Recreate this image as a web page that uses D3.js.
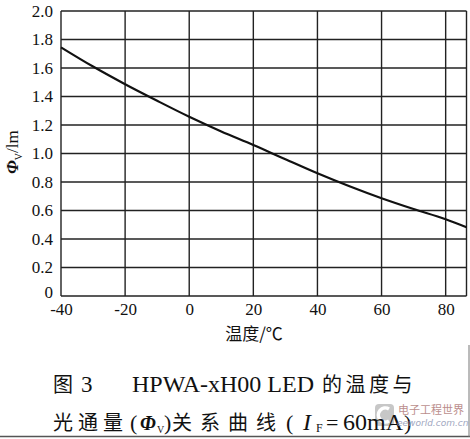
<!DOCTYPE html>
<html><head><meta charset="utf-8">
<script src="https://cdn.jsdelivr.net/npm/d3@7"></script>
<style>body{margin:0;background:#fff}svg{display:block}</style>
</head><body>
<svg id="c" width="470" height="439"></svg>
<script>
const temps = [-40, -30, -20, -10, 0, 10, 20, 30, 40, 50, 60, 70, 80, 86.5];
const flux  = [1.745, 1.61, 1.486, 1.37, 1.258, 1.155, 1.06, 0.96, 0.861, 0.77, 0.686, 0.61, 0.538, 0.482];
const xTicks = [-40, -20, 0, 20, 40, 60, 80];
const yTicks = [0, 0.2, 0.4, 0.6, 0.8, 1.0, 1.2, 1.4, 1.6, 1.8, 2.0];
const xTitle = "温度/℃";

const svg = d3.select("#c");
const x = d3.scaleLinear().domain([-40, 86.5]).range([61, 466.5]);
const y = d3.scaleLinear().domain([0, 2]).range([296, 11]);
const ink = "#222";
const serif = "'Liberation Serif','DejaVu Serif',serif";
const cjk = "'Noto Sans CJK SC',sans-serif";

// grid
const g = svg.append("g");
g.selectAll(".hy").data(yTicks).join("line")
  .attr("x1", x(-40)).attr("x2", x(86.5))
  .attr("y1", d => y(d)).attr("y2", d => y(d))
  .attr("stroke", ink).attr("stroke-width", 1.4);
g.selectAll(".vx").data(xTicks.concat([86.5])).join("line")
  .attr("x1", d => x(d)).attr("x2", d => x(d))
  .attr("y1", y(0)).attr("y2", y(2))
  .attr("stroke", ink).attr("stroke-width", 1.4);

// axes labels via d3 axes
const ya = svg.append("g").attr("transform", `translate(${x(-40)},0)`)
  .call(d3.axisLeft(y).tickValues(yTicks).tickSize(0).tickPadding(8)
    .tickFormat(d => d === 0 ? "0" : d3.format(".1f")(d)));
ya.attr("font-family", serif).attr("font-size", 17);
ya.select(".domain").remove();
ya.selectAll("text").style("font-family", serif).style("font-size", "17px").attr("fill", "#111");
ya.selectAll(".tick").filter(d => d === 0).select("text").attr("dy", "0.1em");

const xa = svg.append("g").attr("transform", `translate(0,${y(0)})`)
  .call(d3.axisBottom(x).tickValues(xTicks).tickSize(0).tickPadding(7).tickFormat(d => d < 0 ? "-" + Math.abs(d) : d));
xa.attr("font-family", serif).attr("font-size", 17);
xa.select(".domain").remove();
xa.selectAll("text").style("font-family", serif).style("font-size", "17px").attr("fill", "#111");

// curve
svg.append("path").datum(temps.map((t, i) => [t, flux[i]]))
  .attr("d", d3.line().x(d => x(d[0])).y(d => y(d[1])).curve(d3.curveMonotoneX))
  .attr("fill", "none").attr("stroke", "#111").attr("stroke-width", 2.2);

// x title
svg.append("text").attr("x", 254).attr("y", 340).attr("text-anchor", "middle")
  .style("font-family", cjk).style("font-size", "17px").attr("fill", "#111").text(xTitle);

// y title
const yt = svg.append("text").attr("transform", "translate(18,152) rotate(-90)")
  .attr("text-anchor", "middle").style("font-family", serif).style("font-size", "17px").attr("fill", "#111");
yt.append("tspan").attr("font-style", "italic").attr("font-weight", "bold").text("Φ");
yt.append("tspan").style("font-size", "10px").attr("dy", 4).text("V");
yt.append("tspan").attr("dy", -4).text("/lm");

function t(xp, yp, str, fam, size, extra) {
  const e = svg.append("text").attr("x", xp).attr("y", yp).style("font-family", fam)
    .style("font-size", size + "px").attr("fill", "#111").text(str);
  if (extra) extra(e);
  return e;
}

// watermark (behind caption)
const wm = svg.append("g").attr("opacity", 0.75);
wm.append("rect").attr("x", 375).attr("y", 404).attr("width", 19).attr("height", 22).attr("rx", 4).attr("fill", "#b5b5b5");
wm.append("path").attr("d", "M389,409 A7,7 0 1,0 389,421").attr("fill", "none").attr("stroke", "#fff").attr("stroke-width", 3.5);

// caption line 1
t(53, 392, "图", cjk, 20);
t(81, 392, "3", serif, 23);
t(132, 392, "HPWA-xH00 LED", serif, 24);
t(322, 392, "的温度与", cjk, 20, e => e.attr("letter-spacing", 3.5));

// caption line 2
t(53, 430, "光通量", cjk, 20, e => e.attr("letter-spacing", 5));
t(130, 430, "(", serif, 22);
t(140, 430, "Φ", serif, 20, e => e.attr("font-style", "italic").attr("font-weight", "bold"));
t(157, 433, "V", serif, 10);
t(164, 430, ")", serif, 22);
t(172, 430, "关系曲线", cjk, 20, e => e.attr("letter-spacing", 8));
t(286, 430, "(", serif, 22);
t(303, 430, "I", serif, 24, e => e.attr("font-style", "italic"));
t(316, 432, "F", serif, 12);
t(326, 430, "=", serif, 22);
t(343, 430, "60mA", serif, 24);
t(404, 430, ")", serif, 22);

// watermark text
t(398, 414, "电子工程世界", cjk, 11, e => e.attr("fill", "#b07a78").attr("opacity", 0.85));
t(397, 426, "eeworld.com.cn", "'DejaVu Sans',sans-serif", 9, e => e.attr("fill", "#8f97b5").attr("font-style", "italic").attr("opacity", 0.85));

// frame lines
svg.append("line").attr("x1", 0).attr("x2", 470).attr("y1", 436.5).attr("y2", 436.5).attr("stroke", "#555").attr("stroke-width", 1.5);
svg.append("line").attr("x1", 469).attr("x2", 469).attr("y1", 345).attr("y2", 437).attr("stroke", "#777").attr("stroke-width", 1);
</script>
</body></html>
